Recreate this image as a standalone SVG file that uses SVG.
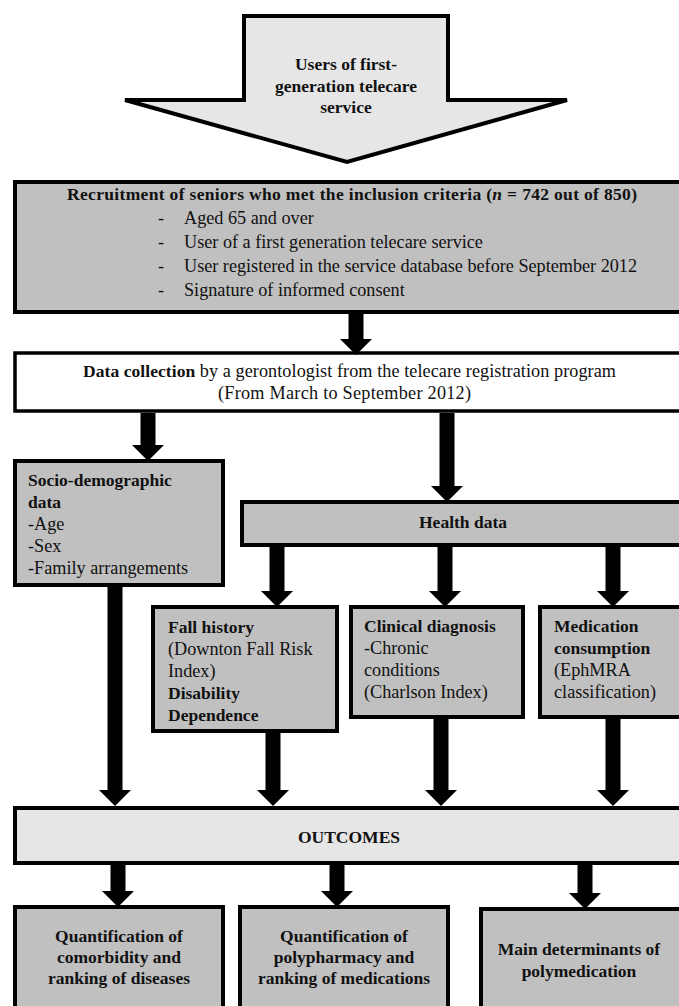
<svg xmlns="http://www.w3.org/2000/svg" width="679" height="1006" viewBox="0 0 679 1006">
<style>
text{font-family:"Liberation Serif","Times New Roman",serif;font-size:18.2px;fill:#111}
.b{font-weight:bold;font-size:17.5px}
.c{text-anchor:middle}
.box{fill:#c0c0c0;stroke:#000;stroke-width:4}
.light{fill:#e6e6e6;stroke:#000;stroke-width:4}
.white{fill:#fff;stroke:#000;stroke-width:3.5}
.arr{stroke:#000;stroke-width:15;fill:none;marker-end:url(#head)}
</style>
<defs>
<marker id="head" markerUnits="userSpaceOnUse" viewBox="0 0 16 32" refX="0" refY="16" markerWidth="16" markerHeight="32" orient="auto">
<path d="M0,0 L16,16 L0,32 Z" fill="#000"/>
</marker>
</defs>
<rect width="679" height="1006" fill="#fff"/>

<g id="users">
<polygon class="light" stroke-linejoin="miter" points="244,16 448,16 448,100 567,100 347,162 125,100 244,100"/>
<text class="b c" x="346" y="70">Users of first-</text>
<text class="b c" x="346" y="92">generation telecare</text>
<text class="b c" x="346" y="113">service</text>
</g>

<g id="recruitment">
<rect class="box" x="15" y="182" width="680" height="130"/>
<text class="b" x="67" y="200" textLength="570">Recruitment of seniors who met the inclusion criteria (<tspan font-style="italic">n</tspan> = 742 out of 850)</text>
<text x="158" y="224">-</text><text x="184" y="224">Aged 65 and over</text>
<text x="158" y="248">-</text><text x="184" y="248">User of a first generation telecare service</text>
<text x="158" y="272">-</text><text x="184" y="272" textLength="453">User registered in the service database before September 2012</text>
<text x="158" y="296">-</text><text x="184" y="296">Signature of informed consent</text>
</g>

<g id="datacollection">
<rect class="white" x="15" y="353" width="680" height="58"/>
<text x="83" y="377" textLength="533"><tspan class="b">Data collection</tspan> by a gerontologist from the telecare registration program</text>
<text x="218" y="399" textLength="253">(From March to September 2012)</text>
</g>

<g id="socio">
<rect class="box" x="15" y="461" width="208" height="124"/>
<text class="b" x="28" y="486">Socio-demographic</text>
<text class="b" x="28" y="508">data</text>
<text x="28" y="530">-Age</text>
<text x="28" y="552">-Sex</text>
<text x="28" y="574">-Family arrangements</text>
</g>

<g id="health">
<rect class="box" x="242" y="502" width="450" height="43"/>
<text class="b c" x="463" y="528">Health data</text>
</g>

<g id="fall">
<rect class="box" x="153" y="607" width="184" height="124"/>
<text class="b" x="168" y="633">Fall history</text>
<text x="168" y="655">(Downton Fall Risk</text>
<text x="168" y="677">Index)</text>
<text class="b" x="168" y="699">Disability</text>
<text class="b" x="168" y="721">Dependence</text>
</g>

<g id="clinical">
<rect class="box" x="351" y="607" width="172" height="110"/>
<text class="b" x="364" y="632">Clinical diagnosis</text>
<text x="364" y="654">-Chronic</text>
<text x="364" y="676">conditions</text>
<text x="364" y="698">(Charlson Index)</text>
</g>

<g id="medication">
<rect class="box" x="540" y="607" width="152" height="110"/>
<text class="b" x="554" y="632">Medication</text>
<text class="b" x="554" y="654">consumption</text>
<text x="554" y="676">(EphMRA</text>
<text x="554" y="698">classification)</text>
</g>

<g id="outcomes">
<rect class="light" x="15" y="808" width="680" height="55"/>
<text class="b c" x="349" y="843">OUTCOMES</text>
</g>

<g id="comorbidity">
<rect class="box" x="15" y="907" width="208" height="110"/>
<text class="b c" x="119" y="942">Quantification of</text>
<text class="b c" x="119" y="963">comorbidity and</text>
<text class="b c" x="119" y="984">ranking of diseases</text>
</g>

<g id="polypharmacy">
<rect class="box" x="240" y="907" width="208" height="110"/>
<text class="b c" x="344" y="942">Quantification of</text>
<text class="b c" x="344" y="963">polypharmacy and</text>
<text class="b c" x="344" y="984">ranking of medications</text>
</g>

<g id="determinants">
<rect class="box" x="481" y="909" width="215" height="110"/>
<text class="b c" x="579" y="955">Main determinants of</text>
<text class="b c" x="579" y="977">polymedication</text>
</g>

<g id="connectors">
<line class="arr" x1="356" y1="314" x2="356" y2="339"/>
<line class="arr" x1="148" y1="413" x2="148" y2="445"/>
<line class="arr" x1="447" y1="413" x2="447" y2="486"/>
<line class="arr" x1="277" y1="547" x2="277" y2="591"/>
<line class="arr" x1="445" y1="547" x2="445" y2="591"/>
<line class="arr" x1="613" y1="547" x2="613" y2="591"/>
<line class="arr" x1="115" y1="587" x2="115" y2="790"/>
<line class="arr" x1="273" y1="733" x2="273" y2="790"/>
<line class="arr" x1="441" y1="719" x2="441" y2="790"/>
<line class="arr" x1="613" y1="719" x2="613" y2="790"/>
<line class="arr" x1="118" y1="865" x2="118" y2="891"/>
<line class="arr" x1="337" y1="865" x2="337" y2="891"/>
<line class="arr" x1="585" y1="865" x2="585" y2="893"/>
</g>
</svg>
